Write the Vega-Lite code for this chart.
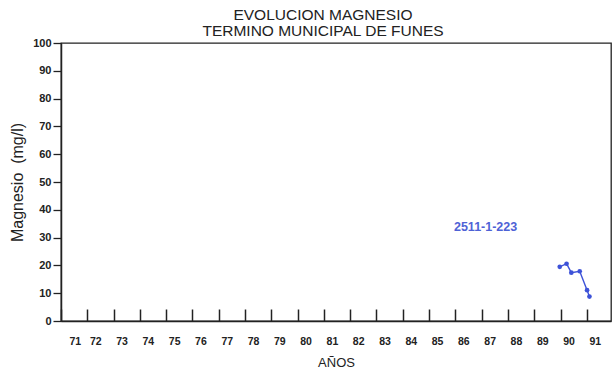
{
  "$schema": "https://vega.github.io/schema/vega-lite/v6.json",
  "width": 550,
  "height": 278,
  "autosize": {"type": "none"},
  "padding": {"left": 61, "top": 43, "right": 2, "bottom": 51},
  "background": "white",
  "config": {
    "view": {"stroke": "#222", "strokeWidth": 1.3},
    "font": "Liberation Sans",
    "axis": {"labelOverlap": false, "grid": false}
  },
  "title": {
    "text": ["EVOLUCION  MAGNESIO", "TERMINO  MUNICIPAL  DE  FUNES"],
    "font": "Liberation Sans",
    "fontSize": 15.5,
    "fontWeight": "normal",
    "color": "#222",
    "lineHeight": 15.5,
    "offset": -2,
    "dx": -13
  },
  "datasets": {
    "mg": [
      {"anio": 89.97, "mg": 19.5},
      {"anio": 90.23, "mg": 20.6},
      {"anio": 90.41, "mg": 17.4},
      {"anio": 90.73, "mg": 17.9},
      {"anio": 91.01, "mg": 11.1},
      {"anio": 91.10, "mg": 8.8}
    ],
    "etiqueta": [
      {"anio": 87.15, "mg": 33.8, "texto": "2511-1-223"}
    ]
  },
  "encoding": {
    "x": {
      "field": "anio",
      "type": "quantitative",
      "scale": {"domain": [71, 91.92], "nice": false, "zero": false},
      "axis": {
        "values": [71, 72, 73, 74, 75, 76, 77, 78, 79, 80, 81, 82, 83, 84, 85, 86, 87, 88, 89, 90, 91],
        "grid": false,
        "labelOverlap": false,
        "tickSize": -12,
        "tickColor": "#222",
        "tickWidth": 1.5,
        "domainColor": "#222",
        "domainWidth": 1.5,
        "labelFont": "Liberation Sans",
        "labelFontSize": 10.5,
        "labelFontWeight": "bold",
        "labelColor": "#222",
        "labelOffset": 8,
        "labelPadding": 27,
        "title": "AÑOS",
        "titleFont": "Liberation Sans",
        "titleFontSize": 13,
        "titleFontWeight": "normal",
        "titleColor": "#222",
        "titlePadding": 10
      }
    },
    "y": {
      "field": "mg",
      "type": "quantitative",
      "scale": {"domain": [0, 100], "nice": false},
      "axis": {
        "values": [0, 10, 20, 30, 40, 50, 60, 70, 80, 90, 100],
        "grid": false,
        "labelOverlap": false,
        "tickSize": 8,
        "tickColor": "#222",
        "tickWidth": 1.3,
        "domainColor": "#222",
        "domainWidth": 1.5,
        "labelFont": "Liberation Sans",
        "labelFontSize": 11,
        "labelFontWeight": "bold",
        "labelColor": "#222",
        "labelPadding": 2,
        "title": "Magnesio\u00a0\u00a0(mg/l)",
        "titleFont": "Liberation Sans",
        "titleFontSize": 16,
        "titleFontWeight": "normal",
        "titleColor": "#222",
        "titlePadding": 7
      }
    }
  },
  "layer": [
    {
      "data": {"name": "mg"},
      "mark": {"type": "line", "color": "#3d52d8", "strokeWidth": 1.4, "point": {"filled": true, "size": 22, "color": "#3d52d8"}}
    },
    {
      "data": {"name": "etiqueta"},
      "mark": {"type": "text", "color": "#4e62d6", "fontSize": 12.5, "font": "Liberation Sans", "fontWeight": "bold"},
      "encoding": {
        "text": {"field": "texto"}
      }
    }
  ]
}
